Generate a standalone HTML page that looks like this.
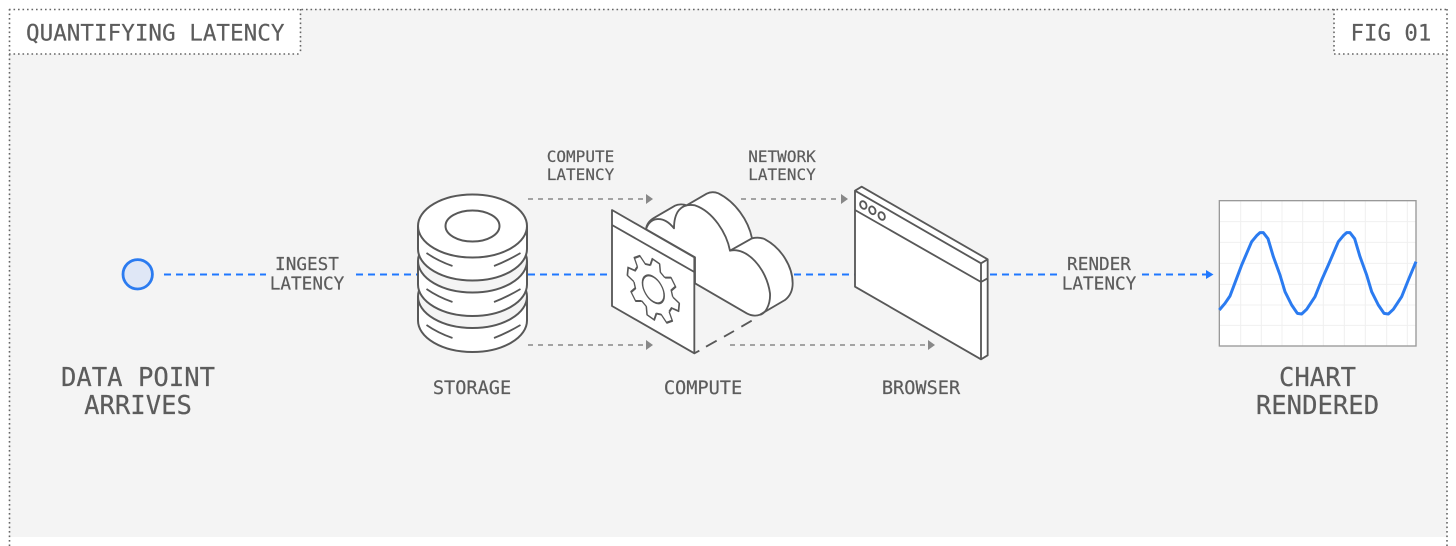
<!DOCTYPE html>
<html>
<head>
<meta charset="utf-8">
<style>
html,body{margin:0;padding:0;background:#fff;width:1456px;height:546px;overflow:hidden}
svg{display:block}
text{font-family:"DejaVu Sans Mono","Liberation Mono",monospace;fill:#5c5c5c;stroke:#5c5c5c;stroke-width:.2}
</style>
</head>
<body>
<svg width="1456" height="546" viewBox="0 0 1456 546" xmlns="http://www.w3.org/2000/svg">
<defs>
<polyline id="t" points="65.7,-17.6 89.1,-12.5 89.1,12.5 65.7,17.6 58.9,34" fill="none" stroke="#585858" stroke-width="5.5" stroke-linejoin="round"/>
</defs>

<!-- panel -->
<rect x="9" y="9" width="1438" height="528" fill="#f4f4f4"/>
<rect x="9" y="9" width="291" height="45" fill="#fff"/>
<rect x="1334" y="9" width="113" height="45" fill="#fff"/>
<g stroke="#666" stroke-width="1.6" stroke-dasharray="1.6 2.9" fill="none">
<path d="M9,9.5H1447"/>
<path d="M9.5,9V546"/>
<path d="M9,54H300.5"/>
<path d="M300.5,9V54"/>
<path d="M1334,54H1447"/>
<path d="M1334,9V54"/>
<path d="M1447,9V546"/>
</g>
<text x="26" y="40.5" font-size="22.6">QUANTIFYING LATENCY</text>
<text x="1350.5" y="40.5" font-size="22.4">FIG 01</text>

<!-- blue connector -->
<g stroke="#1f78ff" stroke-width="2" stroke-dasharray="7 5" fill="none">
<path d="M164,274.5H266"/>
<path d="M356,274.5H418"/>
<path d="M528,274.5H612"/>
<path d="M794,274.5H855"/>
<path d="M990,274.5H1060"/>
<path d="M1142,274.5H1206"/>
</g>
<polygon points="1206,270 1213.5,274.5 1206,279" fill="#1f78ff"/>

<!-- gray connectors -->
<g stroke="#888" stroke-width="1.5" stroke-dasharray="5 5" fill="none">
<path d="M528,199H646"/>
<path d="M528,345H646"/>
<path d="M741,199H841"/>
<path d="M730,345H928"/>
</g>
<g fill="#888">
<polygon points="646,194 653,199 646,204"/>
<polygon points="646,340 653,345 646,350"/>
<polygon points="841,194 848,199 841,204"/>
<polygon points="928,340 935,345 928,350"/>
</g>

<!-- storage -->
<g stroke="#585858" stroke-width="2" fill="#fff">
<path d="M418,296.5V320.5A54.5,31.5 0 0 0 527,320.5V296.5"/>
<ellipse cx="472.5" cy="296.5" rx="54.5" ry="31.5" fill="#f4f4f4"/>
<path d="M418,261V284.5A54.5,31.5 0 0 0 527,284.5V261"/>
<ellipse cx="472.5" cy="261" rx="54.5" ry="31.5" fill="#f4f4f4"/>
<path d="M418,226V249A54.5,31.5 0 0 0 527,249V226"/>
<ellipse cx="472.5" cy="226" rx="54.5" ry="31.5"/>
<ellipse cx="472.5" cy="226" rx="27" ry="15.5"/>
<g fill="none" stroke-width="1.8">
<path d="M426.5,253Q438,261 452.5,266"/>
<path d="M520.5,253Q507,261 494,266"/>
<path d="M426.5,289Q438,297 452.5,302"/>
<path d="M520.5,289Q507,297 494,302"/>
<path d="M426.5,325Q438,333 452.5,338"/>
<path d="M520.5,325Q507,333 494,338"/>
</g>
</g>

<!-- compute -->
<g transform="translate(600,170) scale(.33333)">
<g stroke="#585858" stroke-width="5.5" stroke-linejoin="round" fill="#fff">
<path d="M138,178C140,160 150,150 165,142L225,107C235,102 250,102 260,106L320,71C332,65 345,66 355,70C405,95 445,150 456,205C470,202 485,203 495,208C545,235 578,290 578,340C578,360 570,378 555,390L480,434C470,438 455,438 440,430L285,340V262Z"/>
<path d="M138,178C150,140 190,135 222,175C222,130 240,98 285,106C340,125 380,190 390,242C440,230 500,295 510,370C512,405 495,432 480,434" fill="none"/>
<path d="M390,242L456,205" fill="none"/>
<path d="M36,120L283,262V550L36,408Z"/>
<path d="M36,165L283,306" fill="none"/>
<path d="M283,550L298,542M318,530L350,512M372,500L402,483M424,470L455,452" fill="none"/>
</g>
<g transform="matrix(.866,.5,0,1,160,358)">
<use href="#t" transform="rotate(6)"/>
<use href="#t" transform="rotate(51)"/>
<use href="#t" transform="rotate(96)"/>
<use href="#t" transform="rotate(141)"/>
<use href="#t" transform="rotate(186)"/>
<use href="#t" transform="rotate(231)"/>
<use href="#t" transform="rotate(276)"/>
<use href="#t" transform="rotate(321)"/>
<circle r="37.5" fill="none" stroke="#585858" stroke-width="5.5"/>
</g>
</g>

<!-- browser -->
<g transform="translate(840,170) scale(.33333)" stroke="#585858" stroke-width="5.5" stroke-linejoin="round" fill="#fff">
<path d="M45,62L65,50L443,268V556L423,568L45,350Z"/>
<path d="M45,62L423,280V568M423,280L443,268M45,120L423,336L443,325" fill="none"/>
<ellipse cx="70" cy="105" rx="9" ry="12" transform="rotate(-25 70 105)"/>
<ellipse cx="97" cy="121" rx="9" ry="12" transform="rotate(-25 97 121)"/>
<ellipse cx="125" cy="138" rx="9" ry="12" transform="rotate(-25 125 138)"/>
</g>

<!-- chart -->
<g transform="translate(1200,190) scale(.33333)">
<rect x="58" y="32" width="590" height="436" fill="#fff"/>
<g stroke="#f0f0f0" stroke-width="3" fill="none">
<path d="M122,32V468M184,32V468M246,32V468M308,32V468M370,32V468M433,32V468M496,32V468M560,32V468M622,32V468"/>
<path d="M58,95H648M58,157H648M58,220H648M58,283H648M58,345H648M58,406H648"/>
</g>
<rect x="58" y="32" width="590" height="436" fill="none" stroke="#999" stroke-width="4"/>
<polyline points="58,360 75,340 90,318 110,265 125,225 140,190 155,155 170,137 180,128 190,128 204,146 220,200 240,255 255,305 275,345 292,370 305,372 320,358 345,320 365,270 385,225 400,190 415,155 430,137 440,128 450,128 464,146 480,200 500,255 515,305 535,345 552,370 565,372 580,358 605,320 625,270 648,215" fill="none" stroke="#2b7bf0" stroke-width="9" stroke-linejoin="round"/>
</g>

<!-- data point -->
<circle cx="137.7" cy="274.3" r="14.7" fill="#dfe7f6" stroke="#2b7bf0" stroke-width="2.8"/>

<!-- labels -->
<g text-anchor="middle">
<text x="138" y="386" font-size="25.6">DATA POINT</text>
<text x="138" y="414" font-size="25.6">ARRIVES</text>
<text x="1317.5" y="386" font-size="25.6">CHART</text>
<text x="1317.5" y="414" font-size="25.6">RENDERED</text>
<text x="472" y="394" font-size="18.6">STORAGE</text>
<text x="703" y="394" font-size="18.6">COMPUTE</text>
<text x="921" y="394" font-size="18.6">BROWSER</text>
<text x="307" y="270" font-size="17.7">INGEST</text>
<text x="307" y="289.5" font-size="17.7">LATENCY</text>
<text x="1099" y="270" font-size="17.7">RENDER</text>
<text x="1099" y="289.5" font-size="17.7">LATENCY</text>
<text x="580.5" y="162" font-size="16">COMPUTE</text>
<text x="580.5" y="180" font-size="16">LATENCY</text>
<text x="782" y="162" font-size="16">NETWORK</text>
<text x="782" y="180" font-size="16">LATENCY</text>
</g>
</svg>
</body>
</html>
